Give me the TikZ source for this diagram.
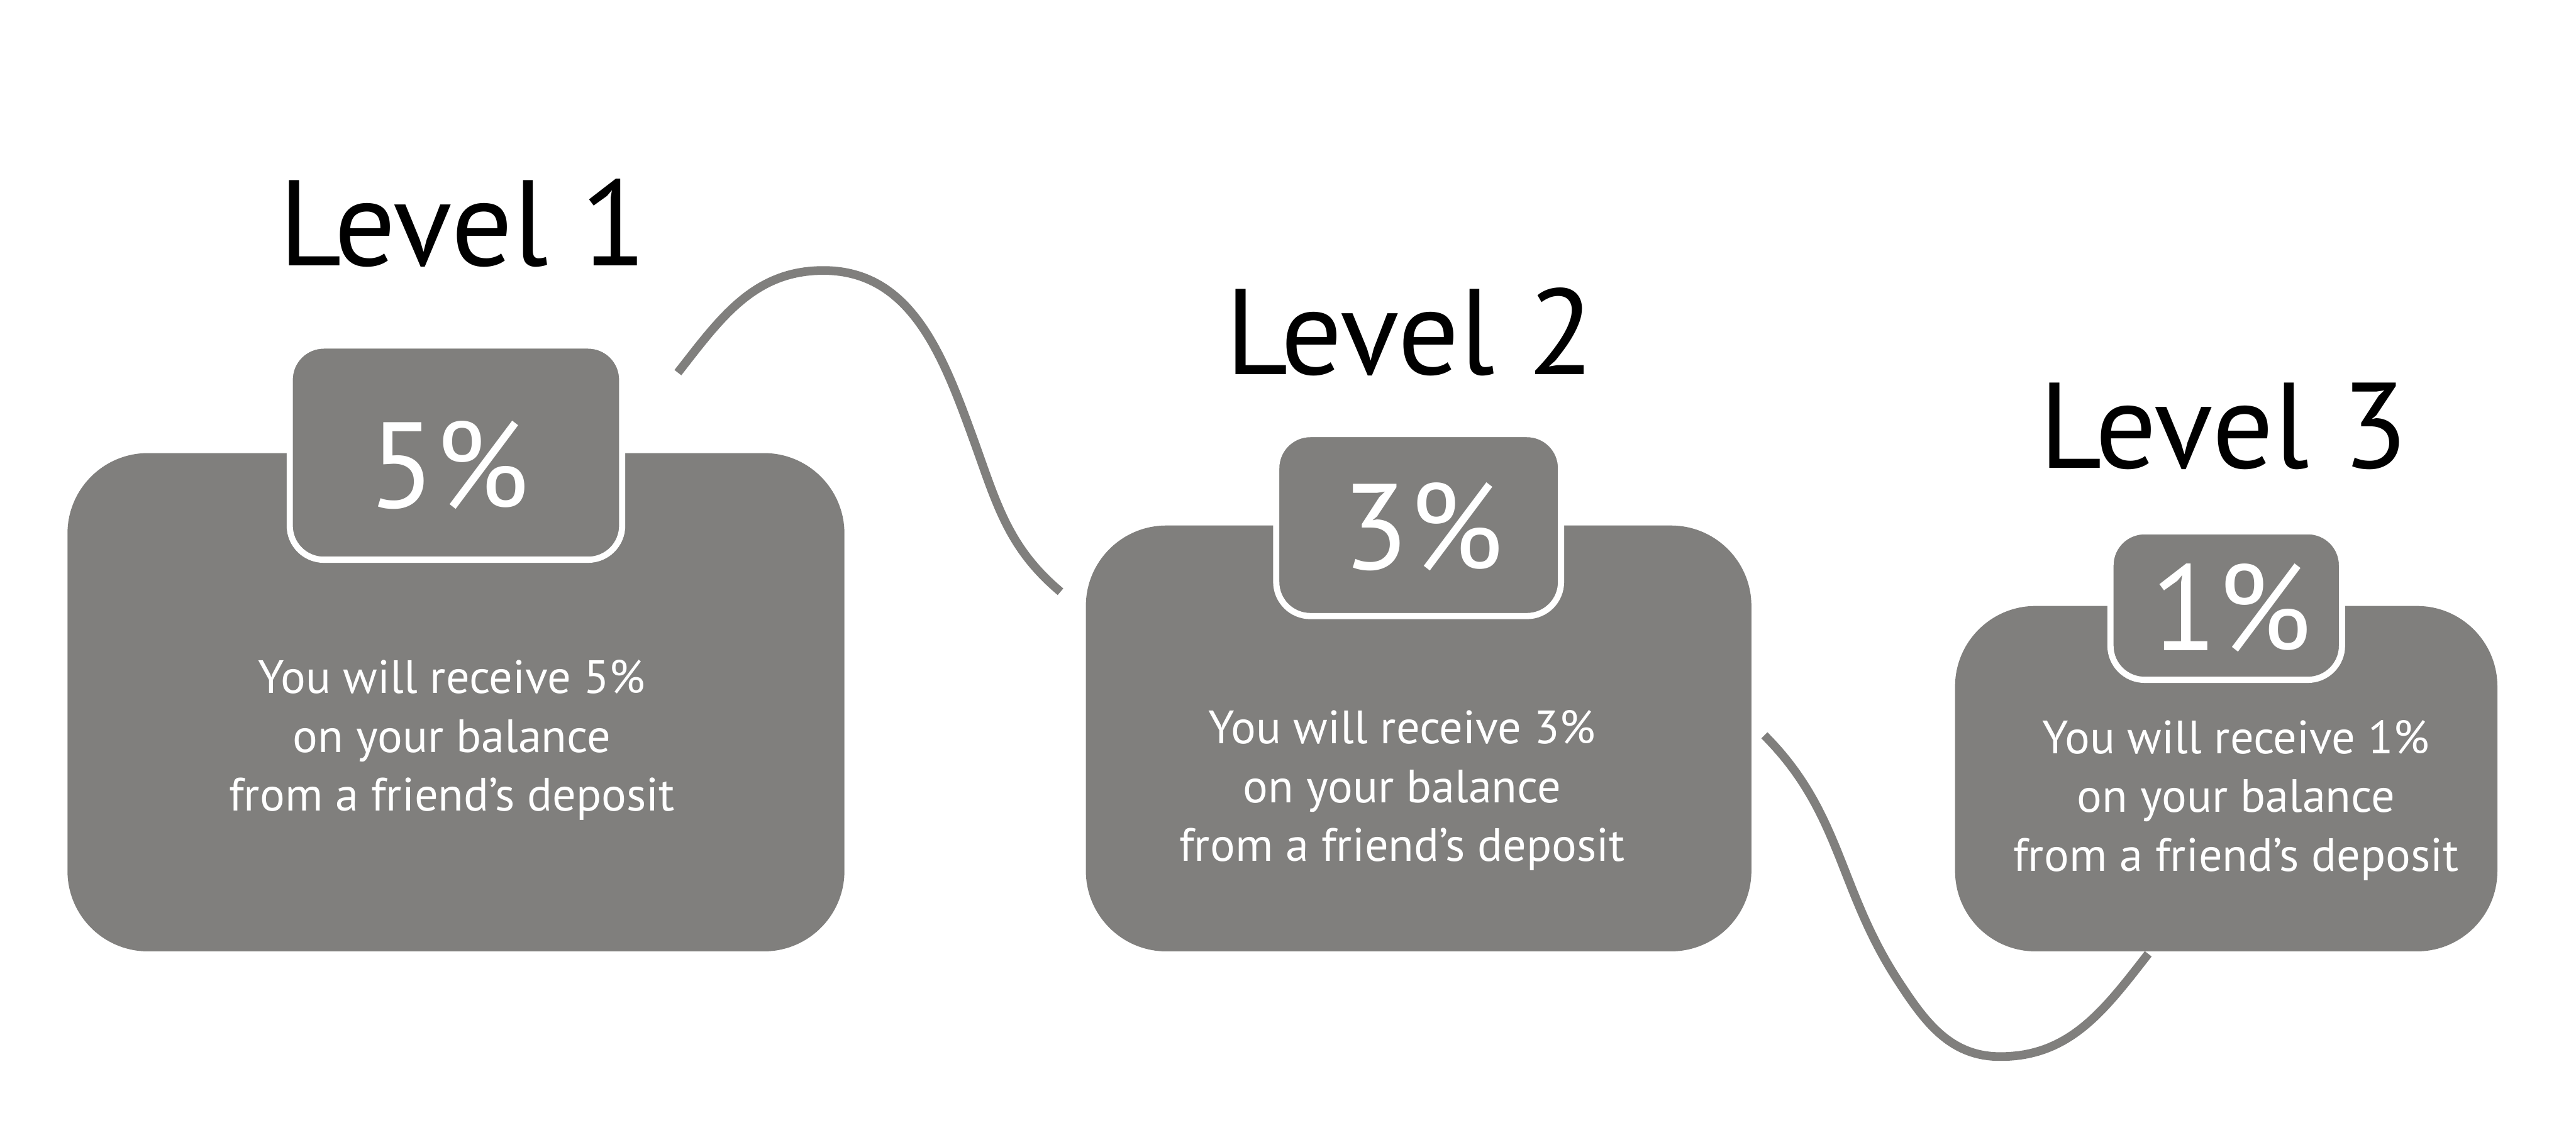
\documentclass[tikz,border=0pt]{standalone}
\usepackage{fontspec}
\setmainfont{PT Sans}
\usetikzlibrary{positioning}
\definecolor{boxgray}{RGB}{128,127,125}

\begin{document}
\begin{tikzpicture}[
        panel/.style={fill=boxgray, rounded corners=1.3cm, inner sep=0pt},
        tab/.style={fill=boxgray, draw=white, line width=1mm, rounded corners=5.5mm, inner sep=0pt},
        pct/.style={text=white, font=\fontsize{56}{60}\selectfont, inner sep=0pt, anchor=base},
        info/.style={text=white, align=center, font=\fontsize{21.5}{27}\selectfont, inner sep=0pt},
        level/.style={font=\fontsize{56}{60}\selectfont, inner sep=0pt, anchor=base},
        wire/.style={draw=boxgray, line width=1.4mm}
    ]
        \useasboundingbox (0,0) rectangle (41.61,18.33);

        % wavy links between the levels
        \coordinate (w1s) at (10.95,12.31);
        \coordinate (w1e) at (17.13,8.77);
        \coordinate (w2s) at (28.50,6.45);
        \coordinate (w2e) at (34.70,2.92);
        \draw[wire] (w1s) to[out=52,in=180] (13.30,13.96) to[out=0,in=110] (15.71,11.27) to[out=-70,in=140] (w1e);
        \draw[wire] (w2s) to[out=-45,in=123] (30.65,2.50) to[out=-57,in=180] (32.31,1.26) to[out=0,in=-128] (w2e);

        % level 1
        \node[panel, minimum width=12.55cm, minimum height=8.05cm] (box1) at (7.365,6.985) {};
        \node[tab, minimum width=5.37cm, minimum height=3.46cm] (tab1) at (box1.north) {};
        \node[pct] (pct1) at (7.25,10.13) {5\%};
        \node[info] (txt1) at (7.30,6.37) {You will receive 5\%\\on your balance\\from a friend’s deposit};
        \node[level] (lvl1) at (7.48,14.04) {Level 1};

        % level 2
        \node[panel, minimum width=10.75cm, minimum height=6.88cm] (box2) at (22.915,6.40) {};
        \node[tab, minimum width=4.60cm, minimum height=2.94cm] (tab2) at (box2.north) {};
        \node[pct] (pct2) at (22.98,9.13) {3\%};
        \node[info] (txt2) at (22.65,5.56) {You will receive 3\%\\on your balance\\from a friend’s deposit};
        \node[level] (lvl2) at (22.77,12.28) {Level 2};

        % level 3
        \node[panel, minimum width=8.76cm, minimum height=5.58cm] (box3) at (35.96,5.75) {};
        \node[tab, minimum width=3.74cm, minimum height=2.40cm] (tab3) at (box3.north) {};
        \node[pct] (pct3) at (36.04,7.82) {1\%};
        \node[info] (txt3) at (36.12,5.40) {You will receive 1\%\\on your balance\\from a friend’s deposit};
        \node[level] (lvl3) at (35.92,10.77) {Level 3};
    \end{tikzpicture}
\end{document}
